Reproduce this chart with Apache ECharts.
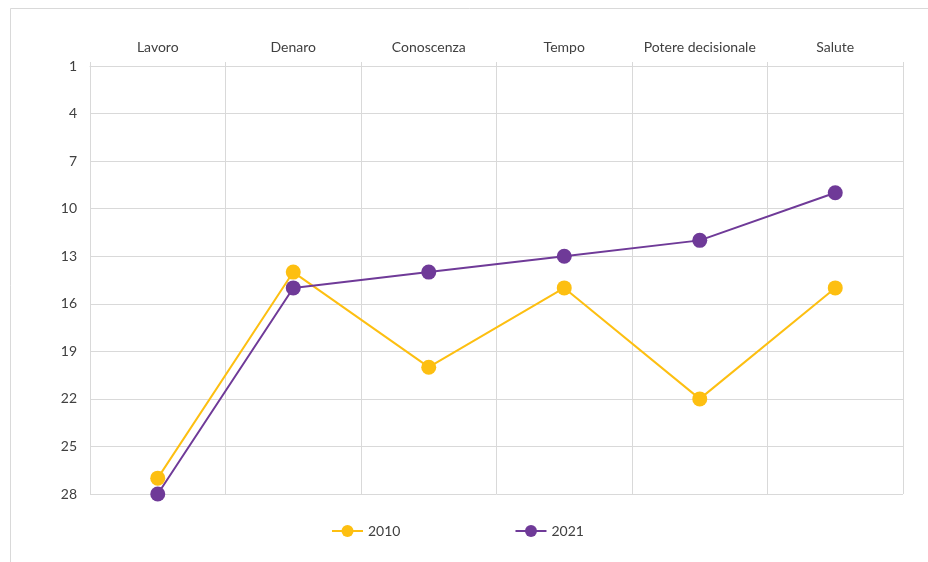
<!DOCTYPE html>
<html>
<head>
<meta charset="utf-8">
<script src="https://cdn.jsdelivr.net/npm/echarts@6/dist/echarts.min.js"></script>
<style>
  html, body { margin: 0; padding: 0; background: #fff; }
  #chart { width: 928px; height: 562px; }
</style>
</head>
<body>
<div id="chart"></div>
<script>
const categories = ['Lavoro', 'Denaro', 'Conoscenza', 'Tempo', 'Potere decisionale', 'Salute'];
const rank2010 = [27, 14, 20, 15, 22, 15];
const rank2021 = [28, 15, 14, 13, 12, 9];
const yTicks = [1, 4, 7, 10, 13, 16, 19, 22, 25, 28];

const font = 'Lato, "Open Sans", sans-serif';
const gridColor = '#d9d9d9';

const myChart = echarts.init(document.getElementById('chart'));

const option = {
  animation: false,
  backgroundColor: '#fff',
  textStyle: { fontFamily: font },
  graphic: [{
    type: 'rect',
    shape: { x: 10.5, y: 8.5, width: 1000, height: 1000 },
    style: { fill: 'none', stroke: gridColor, lineWidth: 1 },
    silent: true
  }],
  grid: { left: 90, right: 25, top: 66, bottom: 68 },
  legend: {
    left: 326,
    top: 519,
    itemWidth: 31,
    itemHeight: 15,
    itemGap: 114,
    textStyle: { fontFamily: font, fontSize: 14, color: '#404040' },
    data: ['2010', '2021']
  },
  xAxis: {
    type: 'category',
    position: 'top',
    data: categories,
    boundaryGap: true,
    axisLine: { show: true, lineStyle: { color: gridColor } },
    axisTick: { show: true, interval: 0, length: 4, lineStyle: { color: gridColor } },
    splitLine: { show: true, interval: 0, lineStyle: { color: gridColor } },
    axisLabel: { interval: 0, color: '#404040', fontSize: 14, fontFamily: font, margin: 12 }
  },
  yAxis: {
    type: 'value',
    inverse: true,
    min: 1,
    max: 28,
    axisLine: { show: true, lineStyle: { color: gridColor } },
    axisTick: { show: false, customValues: yTicks },
    splitLine: { show: true, lineStyle: { color: gridColor } },
    axisLabel: { color: '#404040', fontSize: 14, fontFamily: font, margin: 13, customValues: yTicks }
  },
  series: [
    {
      name: '2010',
      type: 'line',
      data: rank2010,
      symbol: 'circle',
      symbolSize: 15,
      itemStyle: { color: '#fdbf11' },
      lineStyle: { color: '#fdbf11', width: 2 }
    },
    {
      name: '2021',
      type: 'line',
      data: rank2021,
      symbol: 'circle',
      symbolSize: 15,
      itemStyle: { color: '#6f3a98' },
      lineStyle: { color: '#6f3a98', width: 2 }
    }
  ]
};

myChart.setOption(option);
</script>
</body>
</html>
